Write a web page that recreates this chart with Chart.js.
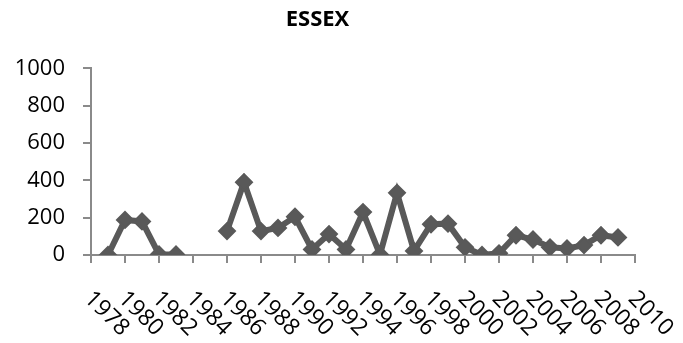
<!DOCTYPE html>
<html>
<head>
<meta charset="utf-8">
<script src="https://cdn.jsdelivr.net/npm/chart.js@4/dist/chart.umd.min.js"></script>
<style>
html,body{margin:0;padding:0;background:#fff;}
#wrap{width:683px;height:343px;position:relative;}
</style>
</head>
<body>
<div id="wrap"><canvas id="c" width="683" height="343"></canvas></div>
<script>
const chartTitle = 'ESSEX';
const years = [1979,1980,1981,1982,1983,1984,1985,1986,1987,1988,1989,1990,1991,1992,1993,1994,1995,1996,1997,1998,1999,2000,2001,2002,2003,2004,2005,2006,2007,2008,2009];
const values = [0,188,180,3,3,null,null,128,390,128,145,205,30,112,30,230,2,333,22,165,168,41,0,9,106,83,41,35,53,106,94];
const xTickLabels = ['1978','1980','1982','1984','1986','1988','1990','1992','1994','1996','1998','2000','2002','2004','2006','2008','2010'];
const yTickValues = [0,200,400,600,800,1000];

const FONT = "'Open Sans', 'Liberation Sans', sans-serif";
const AXIS = '#8a8a8a';
const SERIES = '#595959';

const rotatedXLabels = {
  id: 'rotatedXLabels',
  afterDraw(chart) {
    const sx = chart.scales.x;
    const ctx = chart.ctx;
    const top = chart.chartArea.bottom;
    ctx.save();
    ctx.font = '23px ' + FONT;
    ctx.fillStyle = '#000';
    ctx.textAlign = 'left';
    ctx.textBaseline = 'middle';
    xTickLabels.forEach(l => {
      const px = sx.getPixelForValue(Number(l));
      ctx.save();
      ctx.translate(px - 3, top + 40);
      ctx.rotate(Math.PI / 4);
      ctx.fillText(l, 0, 0);
      ctx.restore();
    });
    ctx.restore();
  }
};

new Chart(document.getElementById('c'), {
  type: 'line',
  data: {
    datasets: [{
      data: years.map((y, i) => ({x: y, y: values[i]})),
      borderColor: SERIES,
      backgroundColor: SERIES,
      borderWidth: 6,
      pointStyle: 'rectRot',
      pointRadius: 8,
      pointBorderWidth: 2,
      pointBackgroundColor: SERIES,
      pointBorderColor: SERIES,
      spanGaps: false,
      tension: 0
    }]
  },
  options: {
    responsive: false,
    animation: false,
    layout: {padding: {left: 0, right: 48, top: 0, bottom: 80}},
    plugins: {
      legend: {display: false},
      tooltip: {enabled: false},
      title: {
        display: true,
        text: chartTitle,
        color: '#000',
        font: {family: FONT, size: 22, weight: 'bold', lineHeight: 1.2},
        padding: {top: 7, bottom: 35}
      }
    },
    scales: {
      x: {
        type: 'linear',
        min: 1978,
        max: 2010,
        ticks: {display: false, stepSize: 2},
        grid: {drawOnChartArea: false, drawTicks: true, tickLength: 8, color: AXIS, lineWidth: 2},
        border: {display: true, color: AXIS, width: 2}
      },
      y: {
        min: 0,
        max: 1000,
        afterBuildTicks: s => { s.ticks = yTickValues.map(v => ({value: v})); },
        afterFit: s => { s.width = 91; },
        ticks: {color: '#000', padding: 18, font: {family: FONT, size: 22}, callback: v => String(v)},
        grid: {drawOnChartArea: false, drawTicks: true, tickLength: 8, color: AXIS, lineWidth: 2},
        border: {display: true, color: AXIS, width: 2}
      }
    }
  },
  plugins: [rotatedXLabels]
});
</script>
</body>
</html>
